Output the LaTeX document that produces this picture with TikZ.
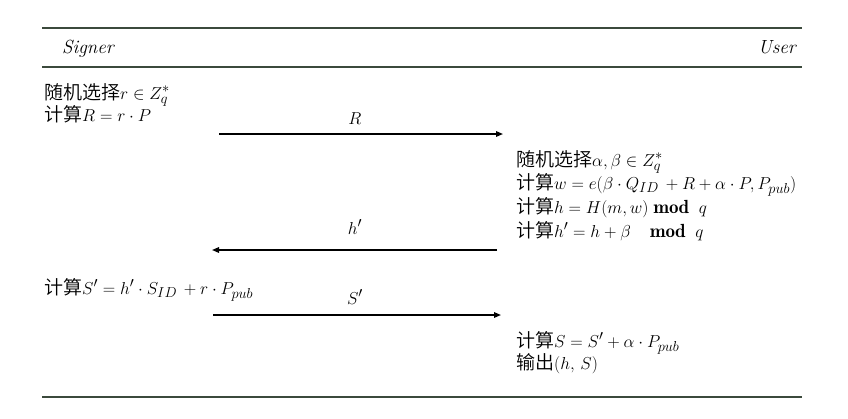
\documentclass[tikz,border=0pt]{standalone}
\usepackage{amsmath,amssymb}
\usepackage{fontspec}
\newfontfamily\cjk{Noto Sans CJK SC DemiLight}
\usetikzlibrary{arrows.meta}
\definecolor{rulecol}{HTML}{3B4A3C}
\tikzset{
  rulel/.style={draw=rulecol,line width=1.8pt},
  txt/.style={anchor=base west,inner sep=0pt,font=\fontsize{19}{24}\selectfont},
  lbl/.style={anchor=base,inner sep=0pt,font=\fontsize{19}{24}\selectfont},
  msg/.style={draw=black,line width=1.5pt,-{Triangle[length=7pt,width=5.5pt]}}
}
\begin{document}
\begin{tikzpicture}[x=1pt,y=-1pt]
\useasboundingbox (0,0) rectangle (848,418);
% rules
\coordinate (t1) at (42,28); \coordinate (t2) at (802,28);
\coordinate (h1) at (42,67); \coordinate (h2) at (802,67);
\coordinate (b1) at (42,397); \coordinate (b2) at (802,397);
\draw[rulel] (t1) -- (t2);
\draw[rulel] (h1) -- (h2);
\draw[rulel] (b1) -- (b2);
% headers
\node[txt] (signer) at (62,53) {$\mathit{Signer}$};
\node[txt,anchor=base east] (user) at (796,53) {$\mathit{User}$};
% left block
\node[txt] (l1) at (44,99) {{\cjk 随机选择}$r\in Z_q^*$};
\node[txt] (l2) at (44,121) {{\cjk 计算}$R=r\cdot P$};
% right block
\node[txt] (r1) at (516,166) {{\cjk 随机选择}$\alpha,\beta\in Z_q^*$};
\node[txt] (r2) at (516,189) {{\cjk 计算}$w=e(\beta\cdot Q_{ID}\,+R+\alpha\cdot P,P_{pub})$};
\node[txt] (r3) at (516,213) {{\cjk 计算}$h=H(m,w)\;\mathbf{mod}\;\;q$};
\node[txt] (r4) at (516,237) {{\cjk 计算}$h'=h+\beta\quad\mathbf{mod}\;\;q$};
% left S'
\node[txt] (l3) at (44,294) {{\cjk 计算}$S'=h'\cdot S_{ID}\,+r\cdot P_{pub}$};
% right final
\node[txt] (r5) at (516,347) {{\cjk 计算}$S=S'+\alpha\cdot P_{pub}$};
\node[txt] (r6) at (516,369) {{\cjk 输出}$(h,\,S)$};
% messages
\coordinate (a1s) at (219,134); \coordinate (a1e) at (503,134);
\coordinate (a2s) at (497,250); \coordinate (a2e) at (212,250);
\coordinate (a3s) at (213,315); \coordinate (a3e) at (501,315);
\draw[msg] (a1s) -- (a1e);
\draw[msg] (a2s) -- (a2e);
\draw[msg] (a3s) -- (a3e);
\node[lbl] (lR) at (355,124) {$R$};
\node[lbl] (lh) at (355,234) {$h'$};
\node[lbl] (lS) at (355,304) {$S'$};
\end{tikzpicture}
\end{document}
